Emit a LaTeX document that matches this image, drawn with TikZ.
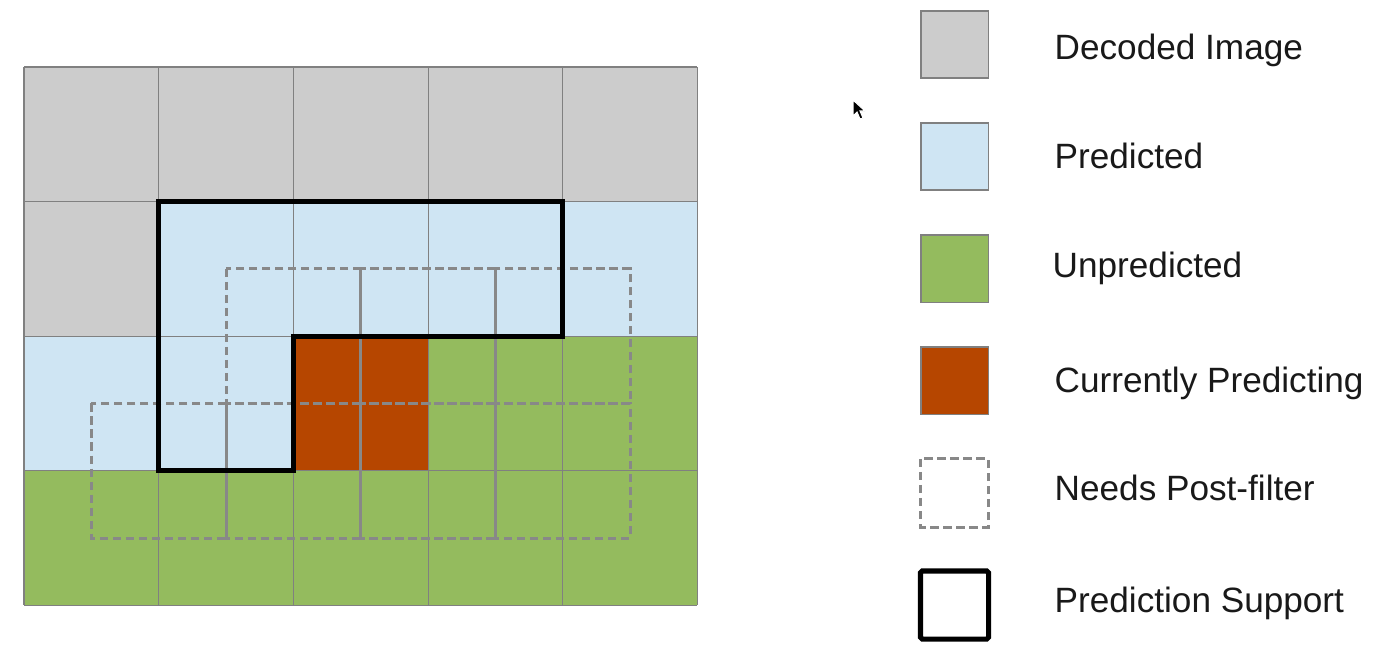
\documentclass[tikz,border=0pt]{standalone}
\usepackage{fontspec}
\setmainfont{Liberation Sans}
\usetikzlibrary{positioning}
\definecolor{decgray}{RGB}{204,204,204}
\definecolor{predblue}{RGB}{207,229,243}
\definecolor{unpgreen}{RGB}{148,187,94}
\definecolor{curorange}{RGB}{182,70,0}
\definecolor{gridline}{RGB}{128,128,128}
\definecolor{filtgray}{RGB}{136,136,136}

\begin{document}
\begin{tikzpicture}[x=0.01cm, y=-0.01cm,
  cell/.style={draw=gridline,line width=0.3pt},
  postfilter/.style={draw=filtgray,line width=0.85pt,dash pattern=on 2.4pt off 1.3pt},
  support/.style={draw=black,line width=1.45pt,line join=miter},
  legbox/.style={rectangle,draw=gridline,line width=0.3pt,inner sep=0pt,minimum size=0.67cm},
  leglabel/.style={anchor=base west,inner sep=0pt,font=\fontsize{10pt}{12pt}\selectfont,text=black!90}]

  \useasboundingbox (0,0) rectangle (1376,648);

  % image blocks, one cell = one block
  \begin{scope}[shift={(24,67)}, x=1.346cm, y=-1.345cm]
    \foreach \r/\cols in {0/{decgray,decgray,decgray,decgray,decgray},
                          1/{decgray,predblue,predblue,predblue,predblue},
                          2/{predblue,predblue,curorange,unpgreen,unpgreen},
                          3/{unpgreen,unpgreen,unpgreen,unpgreen,unpgreen}}
      \foreach \col [count=\c from 0] in \cols
        \fill[\col] (\c,\r) rectangle ++(1,1);
    \foreach \c in {0,...,5}
      \draw[cell] (\c,0) -- (\c,4);
    \foreach \r in {0,...,4}
      \draw[cell] (0,\r) -- (5,\r);

    % blocks that need the post-filter
    \foreach \c/\r in {1.5/1.5,2.5/1.5,3.5/1.5,0.5/2.5,1.5/2.5,2.5/2.5,3.5/2.5}
      \draw[postfilter] (\c,\r) rectangle ++(1,1);

    % prediction support
    \draw[support] (1,1) -- (4,1) -- (4,2) -- (2,2) -- (2,3) -- (1,3) -- cycle;
  \end{scope}

  % mouse pointer
  \fill[black,draw=white,line width=0.3pt] (853,100) -- (853,116) -- (857,112) -- (860,119) -- (863,118) -- (860,111) -- (865,111) -- cycle;

  % legend
  \node[legbox,fill=decgray] (kdec) at (954.5,44.5) {};
  \node[legbox,fill=predblue] (kpred) at (954.5,156.5) {};
  \node[legbox,fill=unpgreen] (kunp) at (954.5,268.5) {};
  \node[legbox,fill=curorange] (kcur) at (954.5,380.5) {};
  \node[legbox,draw=none] (kfilt) at (954.5,493) {};
  \draw[postfilter] (kfilt.north west) rectangle (kfilt.south east);
  \node[legbox,draw=none] (ksup) at (954.5,605) {};
  \draw[support,rounded corners=0.5pt] (ksup.north west) rectangle (ksup.south east);

  \node[leglabel] (ldec) at (1054,59) {Decoded Image};
  \node[leglabel] (lpred) at (1054,168) {Predicted};
  \node[leglabel] (lunp) at (1052,277) {Unpredicted};
  \node[leglabel] (lcur) at (1054,392) {Currently Predicting};
  \node[leglabel] (lfilt) at (1054,500) {Needs Post-filter};
  \node[leglabel] (lsup) at (1054,612) {Prediction Support};
\end{tikzpicture}
\end{document}
